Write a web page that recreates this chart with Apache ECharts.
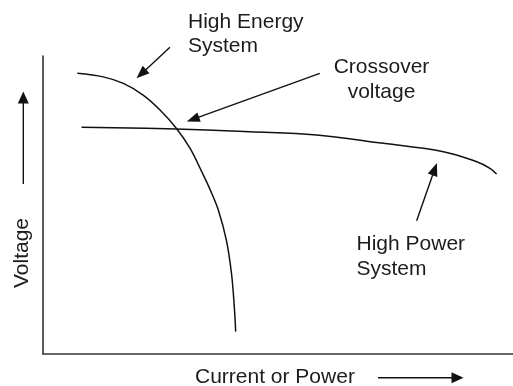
<!DOCTYPE html>
<html>
<head>
<meta charset="utf-8">
<title>Voltage vs Current or Power</title>
<script src="https://cdn.jsdelivr.net/npm/echarts@6/dist/echarts.min.js"></script>
<style>
  html, body { margin: 0; padding: 0; background: #ffffff; }
  #chart { width: 513px; height: 386px; }
</style>
</head>
<body>
<div id="chart"></div>
<script>
// Axis ranges (arbitrary units: current or power on x, voltage on y)
var xRange = [0, 100];
var yRange = [0, 100];

// High energy system: flat at first, then collapsing steeply
var energyX = [7.3, 12.8, 17.1, 21.3, 24.9, 28.4, 31.3, 34.1, 35.6, 37.3, 39.0, 40.1, 40.7, 41.0];
var energyY = [94.2, 93.0, 90.8, 86.9, 81.9, 75.7, 69.0, 60.1, 55.0, 48.3, 38.3, 27.1, 15.9, 7.5];

// High power system: nearly flat voltage over a wide range
var powerX = [8.2, 28.4, 44.0, 58.2, 72.4, 85.2, 92.3, 95.1, 96.5];
var powerY = [76.1, 75.5, 74.6, 73.5, 70.7, 67.9, 64.5, 62.3, 60.4];

// Callout arrows in data units: [tailX, tailY, tipX, tipY]
var energyArrow = [27.0, 102.9, 19.9, 92.5];
var crossArrow = [58.9, 94.2, 30.6, 78.0];
var powerArrow = [79.5, 44.7, 83.8, 64.1];

// Callout labels
var energyLabel = 'High Energy\nSystem';
var crossLabel = 'Crossover\nvoltage';
var powerLabel = 'High Power\nSystem';
var yName = 'Voltage';
var xName = 'Current or Power';

function pairs(xs, ys) {
  return xs.map(function (x, i) { return [x, ys[i]]; });
}

var FONT = '"Liberation Sans", Arial, Helvetica, sans-serif';
var INK = '#111111';
var TEXT = '#1c1c1c';

var chart = echarts.init(document.getElementById('chart'), null, { renderer: 'canvas' });

chart.setOption({
  animation: false,
  backgroundColor: '#ffffff',
  grid: { left: 43, right: 0, top: 56, bottom: 32 },
  xAxis: {
    type: 'value', min: xRange[0], max: xRange[1],
    axisLine: { show: true, onZero: false, lineStyle: { color: '#333333', width: 1.6 } },
    axisTick: { show: false }, axisLabel: { show: false }, splitLine: { show: false }
  },
  yAxis: {
    type: 'value', min: yRange[0], max: yRange[1],
    axisLine: { show: true, onZero: false, lineStyle: { color: '#333333', width: 1.6 } },
    axisTick: { show: false }, axisLabel: { show: false }, splitLine: { show: false }
  },
  series: [
    {
      name: 'High Energy System', type: 'line', data: pairs(energyX, energyY),
      smooth: 0.35, showSymbol: false, lineStyle: { color: INK, width: 1.5 }
    },
    {
      name: 'High Power System', type: 'line', data: pairs(powerX, powerY),
      smooth: 0.4, showSymbol: false, lineStyle: { color: INK, width: 1.5 }
    }
  ]
});

// Build an arrow (shaft + filled head) between two pixel points
function arrow(x1, y1, x2, y2, headLen, headWidth, width) {
  var dx = x2 - x1, dy = y2 - y1;
  var len = Math.sqrt(dx * dx + dy * dy);
  var ux = dx / len, uy = dy / len;
  var bx = x2 - ux * headLen, by = y2 - uy * headLen;
  var px = -uy * headWidth / 2, py = ux * headWidth / 2;
  return [
    { type: 'line', silent: true,
      shape: { x1: x1, y1: y1, x2: bx + ux * 1, y2: by + uy * 1 },
      style: { stroke: INK, lineWidth: width || 1.4 } },
    { type: 'polygon', silent: true,
      shape: { points: [[x2, y2], [bx + px, by + py], [bx - px, by - py]] },
      style: { fill: INK } }
  ];
}

function dataArrow(a) {
  var p1 = chart.convertToPixel({ gridIndex: 0 }, [a[0], a[1]]);
  var p2 = chart.convertToPixel({ gridIndex: 0 }, [a[2], a[3]]);
  return arrow(p1[0], p1[1], p2[0], p2[1], 13, 10, 1.4);
}

function label(text, x, y, align, lh, rotation) {
  return {
    type: 'text', silent: true, x: x, y: y, rotation: rotation || 0,
    style: {
      text: text, fill: TEXT, font: '21px ' + FONT,
      align: align, verticalAlign: 'middle', lineHeight: lh
    }
  };
}

var elements = []
  .concat(dataArrow(energyArrow))
  .concat(dataArrow(crossArrow))
  .concat(dataArrow(powerArrow))
  // axis direction arrows beside the axis names
  .concat(arrow(23.3, 184, 23.3, 91.5, 12, 11, 1.4))
  .concat(arrow(378, 377.7, 463.5, 377.7, 12, 11, 1.4));

elements.push(label(energyLabel, 188, 34, 'left', 24));
elements.push(label(crossLabel, 381.5, 79.5, 'center', 25));
elements.push(label(powerLabel, 356.5, 257, 'left', 25));
elements.push(label(yName, 22, 253, 'center', 24, Math.PI / 2));
elements.push(label(xName, 195, 377.5, 'left', 24));

chart.setOption({ graphic: { elements: elements } });
</script>
</body>
</html>
